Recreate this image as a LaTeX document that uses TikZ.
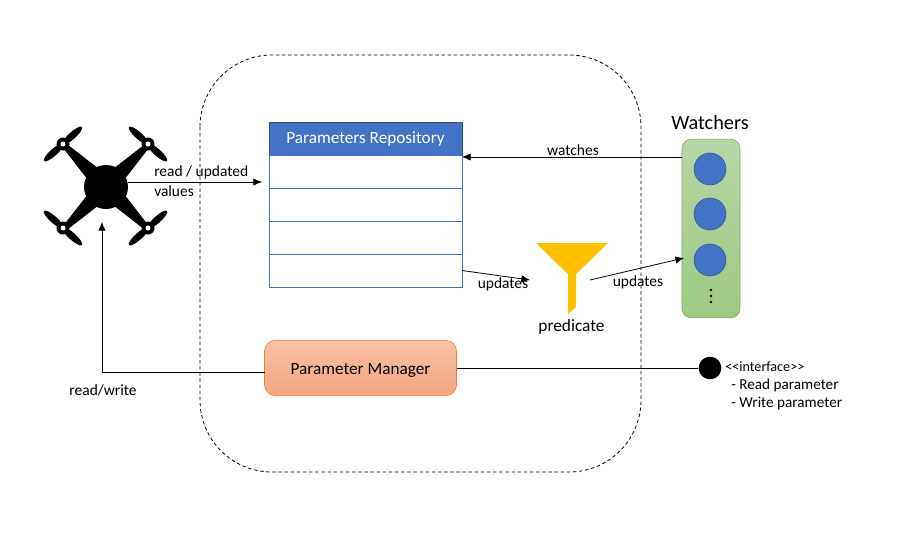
\documentclass[tikz,border=0pt]{standalone}
\usepackage{fontspec}
\setmainfont{Carlito}
\usetikzlibrary{positioning,arrows.meta}

\definecolor{repoblue}{HTML}{4472C4}
\definecolor{repodark}{HTML}{2F528F}
\definecolor{funnelyellow}{HTML}{FFC000}
\definecolor{managerline}{HTML}{ED7D31}
\definecolor{managertop}{HTML}{F8C1A6}
\definecolor{managerbot}{HTML}{F4A582}
\definecolor{watcherline}{HTML}{70AD47}
\definecolor{watchertop}{HTML}{B7D6A8}
\definecolor{watcherbot}{HTML}{9DC983}

\tikzset{
  rowbox/.style={draw=repoblue, fill=white, minimum width=144.75pt, minimum height=24.75pt, inner sep=0pt, outer sep=0pt},
  headbox/.style={rowbox, draw=repodark, fill=repoblue, text=white, font=\fontsize{12.9}{15}\selectfont},
  managerbox/.style={draw=managerline, rounded corners=8pt, top color=managertop, bottom color=managerbot,
    minimum width=144pt, minimum height=41.5pt, inner sep=0pt, outer sep=0pt, font=\fontsize{12.9}{15}\selectfont},
  watcherbox/.style={draw=watcherline, rounded corners=7pt, top color=watchertop, bottom color=watcherbot,
    minimum width=43.5pt, minimum height=134pt, inner sep=0pt, outer sep=0pt},
  watcher/.style={circle, draw=repodark, fill=repoblue, minimum size=24pt, inner sep=0pt},
  lbl/.style={inner sep=0pt, font=\fontsize{11.6}{13}\selectfont},
  small/.style={inner sep=0pt, anchor=west, font=\fontsize{11.4}{13}\selectfont},
  conn/.style={-{Latex[length=6.5pt,width=5.5pt]}, line width=0.6pt},
}

\begin{document}
\begin{tikzpicture}[x=0.75pt, y=-0.75pt, node distance=0pt]
\useasboundingbox (0,0) rectangle (909,557);

% boundary
\draw[line width=0.6pt, dash pattern=on 2.6pt off 2pt, rounded corners=54pt] (200,55) rectangle (641,472);

% drone
\foreach \hx/\hy/\arm/\blade in {63/144/135/42, 148/144/45/-42, 63/228/225/-42, 148/228/-45/42} {
  \fill[shift={(106,187)}, rotate=\arm] (0,-10) -- (60,-2.5) -- (60,2.5) -- (0,10) -- cycle;
  \fill[shift={(\hx,\hy)}, rotate=\blade] (12.5,0) ellipse (13 and 3.5) (-12.5,0) ellipse (13 and 3.5);
  \fill (\hx,\hy) circle (6.5);
  \fill[white] (\hx,\hy) circle (2.5);
}
\node[circle, fill=black, minimum size=33pt, inner sep=0pt] (drone) at (106,187) {};

% repository
\node[headbox] (head) at (365.5,138.5) {Parameters Repository};
\node[rowbox, below=of head] (row1) {};
\node[rowbox, below=of row1] (row2) {};
\node[rowbox, below=of row2] (row3) {};
\node[rowbox, below=of row3] (row4) {};

% manager and interface
\node[managerbox, text depth=0pt] (manager) at (360.5,368) {\raisebox{-1.5pt}{Parameter Manager}};
\node[circle, fill=black, minimum size=17pt, inner sep=0pt] (iface) at (710,368) {};

% watchers
\node[watcherbox] (watchers) at (711,228.5) {};
\node[font=\fontsize{15.2}{18}\selectfont, inner sep=0pt] (watchtitle) at (710,123) {Watchers};
\node[watcher] (w1) at (710,169) {};
\node[watcher] (w2) at (710,214) {};
\node[watcher] (w3) at (710,260) {};
\foreach \dy in {290,296,302} \fill (711,\dy) circle (1.4);

% funnel
\fill[funnelyellow] (536,243) -- (608,243) -- (576,274) -- (576,307) -- (568,314) -- (568,274) -- cycle;
\node[lbl, font=\fontsize{13}{15}\selectfont] (predicate) at (571.5,326.5) {predicate};

\coordinate (repoin) at (262,182);
\coordinate (watchy) at (0,157);
\coordinate (funnelin) at (530,280);
\coordinate (funnelout) at (590,280);
\coordinate (dronein) at (102,222);
\coordinate (watchin) at (684,258);

% connectors
\draw[conn] (drone.east |- repoin) -- (repoin);
\draw[conn] (watchers.west |- watchy) -- (row1.east |- watchy);
\draw[conn] (row4.east) -- (funnelin);
\draw[conn] (funnelout) -- (watchin);
\draw[conn] (manager.west |- 0,372) -- (102,372) -- (dronein);
\draw[line width=0.6pt] (manager.east) -- (iface);

% labels
\node[lbl, anchor=west] (readlbl) at (154,172.5) {read / updated};
\node[lbl, anchor=west] (valuelbl) at (154,191) {values};
\node[lbl] (watchlbl) at (573,150.5) {watches};
\node[lbl] (upd1) at (503,284) {updates};
\node[lbl] (upd2) at (638,282) {updates};
\node[lbl] (rwlbl) at (103,390.5) {read/write};
\node[small, font=\fontsize{10.6}{12}\selectfont] (ifacelbl) at (725,366.5) {<{}<interface>{}>};
\node[small] (readp) at (731,385.5) {- Read parameter};
\node[small] (writep) at (731,403.5) {- Write parameter};
\end{tikzpicture}
\end{document}
